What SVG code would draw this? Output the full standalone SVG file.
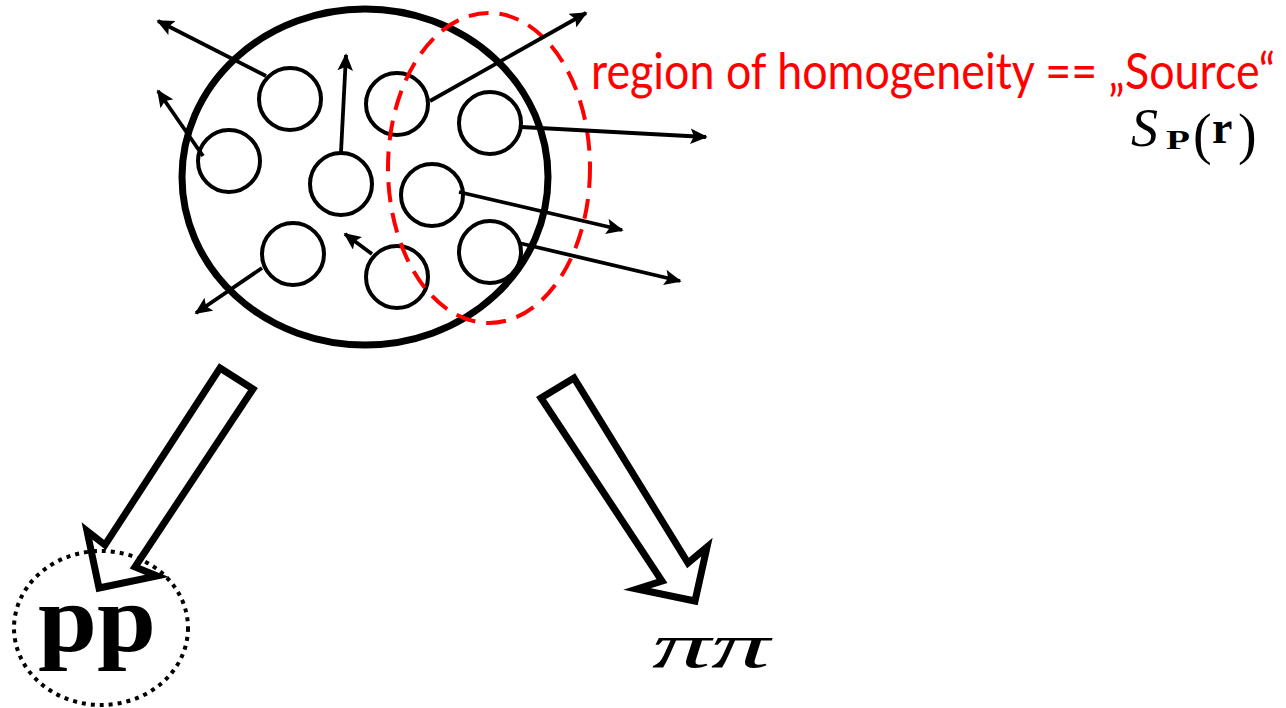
<svg xmlns="http://www.w3.org/2000/svg" width="1286" height="708" viewBox="0 0 1286 708">
<style>
.small{fill:none;stroke:#000;stroke-width:4}
.ray{stroke:#000;stroke-width:3.8;fill:none;marker-end:url(#ah)}
.block{fill:#fff;stroke:#000;stroke-width:7;stroke-linejoin:miter}
.math{font-family:'Liberation Serif','DejaVu Serif',serif}
</style>
<defs>
<marker id="ah" viewBox="0 0 10 9" refX="9" refY="4.5" markerWidth="4.6" markerHeight="4.1" orient="auto" markerUnits="strokeWidth">
<path d="M0,0 L10,4.5 L0,9 L2,4.5 Z" fill="#000"/>
</marker>
</defs>
<rect width="1286" height="708" fill="#fff"/>
<g id="source">
<ellipse cx="365" cy="177" rx="183" ry="168" fill="none" stroke="#000" stroke-width="7"/>
</g>
<g id="particles">
<circle class="small" cx="290" cy="99" r="31"/>
<circle class="small" cx="229" cy="161" r="31"/>
<circle class="small" cx="341" cy="184" r="31"/>
<circle class="small" cx="397" cy="104" r="31"/>
<circle class="small" cx="490" cy="123" r="31"/>
<circle class="small" cx="432" cy="195" r="31"/>
<circle class="small" cx="293" cy="254" r="31"/>
<circle class="small" cx="397" cy="277" r="31"/>
<circle class="small" cx="490" cy="252" r="31"/>
</g>
<g id="homogeneity-region">
<ellipse cx="489" cy="168" rx="101" ry="155" fill="none" stroke="#f00" stroke-width="4" stroke-dasharray="20 11"/>
</g>
<g id="connectors">
<line class="ray" x1="266" y1="76" x2="158" y2="21"/>
<line class="ray" x1="203" y1="156" x2="158" y2="91"/>
<line class="ray" x1="341" y1="152" x2="346" y2="55"/>
<line class="ray" x1="430" y1="101" x2="586" y2="13"/>
<line class="ray" x1="521" y1="127" x2="706" y2="137"/>
<line class="ray" x1="459" y1="192" x2="622" y2="230"/>
<line class="ray" x1="262" y1="268" x2="196" y2="313"/>
<line class="ray" x1="372" y1="254" x2="345" y2="234"/>
<line class="ray" x1="519" y1="243" x2="680" y2="281"/>
<polygon class="block" points="220,368 253,389 135,567 157,576 99,588 87,531 105,545"/>
<polygon class="block" points="541,398 574,378 688,563 707,547 695,601 637,589 662,581"/>
</g>
<g id="label-source" transform="translate(591,89) scale(0.8,1)">
<text x="0" y="0" font-family="Lato,'Open Sans','Liberation Sans',sans-serif" font-size="50" fill="#f00" textLength="855" lengthAdjust="spacingAndGlyphs">region of homogeneity == „Source“</text>
</g>
<g id="label-S">
<text class="math" y="146" font-size="54"><tspan x="1131" font-style="italic">S</tspan><tspan x="1166" y="149" font-size="28" font-weight="bold" textLength="24" lengthAdjust="spacingAndGlyphs">P</tspan><tspan x="1193" y="153" font-size="56">(</tspan><tspan x="1212" y="143" font-size="46" font-weight="bold">r</tspan><tspan x="1238" y="153" font-size="56">)</tspan></text>
</g>
<g id="pp">
<ellipse cx="101" cy="628" rx="87" ry="77" fill="none" stroke="#000" stroke-width="4" stroke-dasharray="4 5"/>
<text class="math" x="38" y="651" font-weight="bold" font-size="96" textLength="118" lengthAdjust="spacingAndGlyphs">pp</text>
</g>
<g id="pipi">
<text class="math" x="652" y="667" font-style="italic" font-size="64" textLength="118" lengthAdjust="spacingAndGlyphs">ππ</text>
</g>
</svg>
